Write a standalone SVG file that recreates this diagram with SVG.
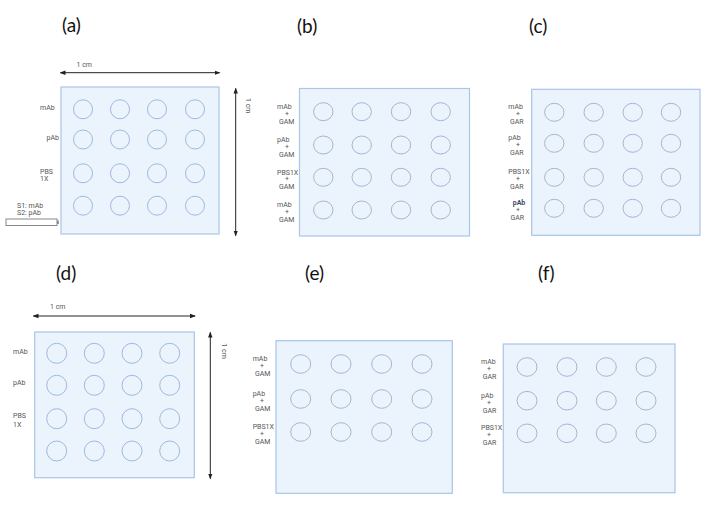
<svg xmlns="http://www.w3.org/2000/svg" width="712" height="506" viewBox="0 0 712 506">
<defs>
<marker id="ah" viewBox="0 0 6 6" refX="5" refY="3" markerWidth="6" markerHeight="6" markerUnits="userSpaceOnUse" orient="auto-start-reverse">
<path d="M0,0.8 L6,3 L0,5.2 Z" fill="#222"/>
</marker>
<style>
.title{font-family:Lato,"Liberation Sans",sans-serif;font-size:19px;fill:#111}
.lab{font-family:Roboto,"Liberation Sans",sans-serif;font-size:7px;fill:#555}
.labb{font-family:Roboto,"Liberation Sans",sans-serif;font-size:7px;fill:#3b4a66;font-weight:bold}
.plate{fill:#ebf4fd;stroke:#a9c5e8;stroke-width:1.2}
.well{fill:none;stroke:#9db9e0;stroke-width:1}
.well2{fill:none;stroke:#a3b7d3;stroke-width:1}
.dim{stroke:#222;stroke-width:1;fill:none}
</style>
</defs>
<rect width="712" height="506" fill="#ffffff"/>

<g id="panel-a">
<text class="title" x="62" y="32">(a)</text>
<rect class="plate" x="61" y="87" width="158" height="147"/>
<g class="well">
<circle cx="83" cy="109.3" r="9.5"/><circle cx="120" cy="109.3" r="9.5"/><circle cx="157" cy="109.3" r="9.5"/><circle cx="195" cy="109.3" r="9.5"/>
<circle cx="83" cy="139.5" r="9.5"/><circle cx="120" cy="139.5" r="9.5"/><circle cx="157" cy="139.5" r="9.5"/><circle cx="195" cy="139.5" r="9.5"/>
<circle cx="83" cy="173.3" r="9.5"/><circle cx="120" cy="173.3" r="9.5"/><circle cx="157" cy="173.3" r="9.5"/><circle cx="195" cy="173.3" r="9.5"/>
<circle cx="83" cy="205.7" r="9.5"/><circle cx="120" cy="205.7" r="9.5"/><circle cx="157" cy="205.7" r="9.5"/><circle cx="195" cy="205.7" r="9.5"/>
</g>
<text class="lab" x="40" y="109.5">mAb</text>
<text class="lab" x="46.5" y="140">pAb</text>
<text class="lab" x="40" y="173.7">PBS</text>
<text class="lab" x="40" y="181">1X</text>
<text class="lab" x="17" y="207.5">S1: mAb</text>
<text class="lab" x="17" y="214.8">S2: pAb</text>
<rect x="6" y="219" width="51" height="6.5" fill="#fff" stroke="#888" stroke-width="1"/>
<rect x="57" y="220.5" width="1.8" height="3.5" fill="#888"/>
</g>

<g id="panel-b">
<text class="title" x="297" y="33">(b)</text>
<rect class="plate" x="299.5" y="88.5" width="170" height="147.5"/>
<g class="well2">
<ellipse cx="323.3" cy="111.7" rx="9.7" ry="9"/><ellipse cx="361.7" cy="111.7" rx="9.7" ry="9"/><ellipse cx="401" cy="111.7" rx="9.7" ry="9"/><ellipse cx="440.7" cy="111.7" rx="9.7" ry="9"/>
<ellipse cx="323.3" cy="145" rx="9.7" ry="9"/><ellipse cx="361.7" cy="145" rx="9.7" ry="9"/><ellipse cx="401" cy="145" rx="9.7" ry="9"/><ellipse cx="440.7" cy="145" rx="9.7" ry="9"/>
<ellipse cx="323.3" cy="177.3" rx="9.7" ry="9"/><ellipse cx="361.7" cy="177.3" rx="9.7" ry="9"/><ellipse cx="401" cy="177.3" rx="9.7" ry="9"/><ellipse cx="440.7" cy="177.3" rx="9.7" ry="9"/>
<ellipse cx="323.3" cy="210" rx="9.7" ry="9"/><ellipse cx="361.7" cy="210" rx="9.7" ry="9"/><ellipse cx="401" cy="210" rx="9.7" ry="9"/><ellipse cx="440.7" cy="210" rx="9.7" ry="9"/>
</g>
<text class="lab" x="277" y="109">mAb</text><text class="lab" x="285" y="115.7">+</text><text class="lab" x="279" y="123.7">GAM</text>
<text class="lab" x="277" y="142.3">pAb</text><text class="lab" x="285" y="149">+</text><text class="lab" x="279" y="157">GAM</text>
<text class="lab" x="277" y="174.6">PBS1X</text><text class="lab" x="285" y="181.3">+</text><text class="lab" x="279" y="189.3">GAM</text>
<text class="lab" x="277" y="207.3">mAb</text><text class="lab" x="285" y="214">+</text><text class="lab" x="279" y="222">GAM</text>
</g>

<g id="panel-c">
<text class="title" x="529" y="33">(c)</text>
<rect class="plate" x="531.7" y="89.3" width="168.3" height="146"/>
<g class="well2">
<ellipse cx="554.3" cy="112.3" rx="9.7" ry="9"/><ellipse cx="593.7" cy="112.3" rx="9.7" ry="9"/><ellipse cx="632.7" cy="112.3" rx="9.7" ry="9"/><ellipse cx="671" cy="112.3" rx="9.7" ry="9"/>
<ellipse cx="554.3" cy="143.3" rx="9.7" ry="9"/><ellipse cx="593.7" cy="143.3" rx="9.7" ry="9"/><ellipse cx="632.7" cy="143.3" rx="9.7" ry="9"/><ellipse cx="671" cy="143.3" rx="9.7" ry="9"/>
<ellipse cx="554.3" cy="177.3" rx="9.7" ry="9"/><ellipse cx="593.7" cy="177.3" rx="9.7" ry="9"/><ellipse cx="632.7" cy="177.3" rx="9.7" ry="9"/><ellipse cx="671" cy="177.3" rx="9.7" ry="9"/>
<ellipse cx="554.3" cy="208.3" rx="9.7" ry="9"/><ellipse cx="593.7" cy="208.3" rx="9.7" ry="9"/><ellipse cx="632.7" cy="208.3" rx="9.7" ry="9"/><ellipse cx="671" cy="208.3" rx="9.7" ry="9"/>
</g>
<text class="lab" x="508.3" y="109.3">mAb</text><text class="lab" x="516" y="116">+</text><text class="lab" x="510" y="124">GAR</text>
<text class="lab" x="508.3" y="140.3">pAb</text><text class="lab" x="516" y="147">+</text><text class="lab" x="510" y="155">GAR</text>
<text class="lab" x="508.3" y="174.3">PBS1X</text><text class="lab" x="516" y="181">+</text><text class="lab" x="510" y="189">GAR</text>
<text class="labb" x="512.7" y="205.3">pAb</text><text class="lab" x="516" y="212">+</text><text class="lab" x="510.5" y="220">GAR</text>
</g>

<g id="panel-d">
<text class="title" x="56" y="280">(d)</text>
<rect class="plate" x="34.7" y="332" width="159.6" height="145.7"/>
<g class="well">
<circle cx="56.7" cy="353.3" r="10"/><circle cx="94.3" cy="353.3" r="10"/><circle cx="132" cy="353.3" r="10"/><circle cx="169.7" cy="353.3" r="10"/>
<circle cx="56.7" cy="385.3" r="10"/><circle cx="94.3" cy="385.3" r="10"/><circle cx="132" cy="385.3" r="10"/><circle cx="169.7" cy="385.3" r="10"/>
<circle cx="56.7" cy="418.7" r="10"/><circle cx="94.3" cy="418.7" r="10"/><circle cx="132" cy="418.7" r="10"/><circle cx="169.7" cy="418.7" r="10"/>
<circle cx="56.7" cy="451" r="10"/><circle cx="94.3" cy="451" r="10"/><circle cx="132" cy="451" r="10"/><circle cx="169.7" cy="451" r="10"/>
</g>
<text class="lab" x="13" y="354.3">mAb</text>
<text class="lab" x="13" y="385">pAb</text>
<text class="lab" x="13" y="418.3">PBS</text>
<text class="lab" x="13" y="427">1X</text>
</g>

<g id="panel-e">
<text class="title" x="305" y="280">(e)</text>
<rect class="plate" x="276" y="340.7" width="176.3" height="152.6"/>
<g class="well2">
<ellipse cx="300.7" cy="364" rx="10" ry="9.3"/><ellipse cx="341" cy="364" rx="10" ry="9.3"/><ellipse cx="381.7" cy="364" rx="10" ry="9.3"/><ellipse cx="422" cy="364" rx="10" ry="9.3"/>
<ellipse cx="300.7" cy="399" rx="10" ry="9.3"/><ellipse cx="341" cy="399" rx="10" ry="9.3"/><ellipse cx="381.7" cy="399" rx="10" ry="9.3"/><ellipse cx="422" cy="399" rx="10" ry="9.3"/>
<ellipse cx="300.7" cy="432" rx="10" ry="9.3"/><ellipse cx="341" cy="432" rx="10" ry="9.3"/><ellipse cx="381.7" cy="432" rx="10" ry="9.3"/><ellipse cx="422" cy="432" rx="10" ry="9.3"/>
</g>
<text class="lab" x="252.7" y="361">mAb</text><text class="lab" x="260" y="368.3">+</text><text class="lab" x="255" y="376">GAM</text>
<text class="lab" x="252.7" y="396">pAb</text><text class="lab" x="260" y="403.3">+</text><text class="lab" x="255" y="411">GAM</text>
<text class="lab" x="252.7" y="429">PBS1X</text><text class="lab" x="260" y="436.3">+</text><text class="lab" x="255" y="444">GAM</text>
</g>

<g id="panel-f">
<text class="title" x="538" y="280">(f)</text>
<rect class="plate" x="503.3" y="344" width="171.7" height="148.7"/>
<g class="well2">
<ellipse cx="527" cy="367" rx="10" ry="9.3"/><ellipse cx="567" cy="367" rx="10" ry="9.3"/><ellipse cx="606.3" cy="367" rx="10" ry="9.3"/><ellipse cx="646" cy="367" rx="10" ry="9.3"/>
<ellipse cx="527" cy="400.7" rx="10" ry="9.3"/><ellipse cx="567" cy="400.7" rx="10" ry="9.3"/><ellipse cx="606.3" cy="400.7" rx="10" ry="9.3"/><ellipse cx="646" cy="400.7" rx="10" ry="9.3"/>
<ellipse cx="527" cy="433.3" rx="10" ry="9.3"/><ellipse cx="567" cy="433.3" rx="10" ry="9.3"/><ellipse cx="606.3" cy="433.3" rx="10" ry="9.3"/><ellipse cx="646" cy="433.3" rx="10" ry="9.3"/>
</g>
<text class="lab" x="481" y="364">mAb</text><text class="lab" x="487" y="371">+</text><text class="lab" x="482.7" y="379">GAR</text>
<text class="lab" x="481" y="397.7">pAb</text><text class="lab" x="487" y="404.7">+</text><text class="lab" x="482.7" y="412.7">GAR</text>
<text class="lab" x="481" y="430.3">PBS1X</text><text class="lab" x="487" y="437.3">+</text><text class="lab" x="482.7" y="445.3">GAR</text>
</g>

<g id="connectors">
<line class="dim" x1="60.5" y1="72.7" x2="219.5" y2="72.7" marker-start="url(#ah)" marker-end="url(#ah)"/>
<text class="lab" x="76.5" y="66.5">1 cm</text>
<line class="dim" x1="235.7" y1="88.5" x2="235.7" y2="235.5" marker-start="url(#ah)" marker-end="url(#ah)"/>
<text class="lab" transform="translate(246,98) rotate(90)">1 cm</text>
<line class="dim" x1="33.5" y1="316" x2="195" y2="316" marker-start="url(#ah)" marker-end="url(#ah)"/>
<text class="lab" x="50" y="309">1 cm</text>
<line class="dim" x1="210.3" y1="332.5" x2="210.3" y2="478.5" marker-start="url(#ah)" marker-end="url(#ah)"/>
<text class="lab" transform="translate(222,343.3) rotate(90)">1 cm</text>
</g>
</svg>
